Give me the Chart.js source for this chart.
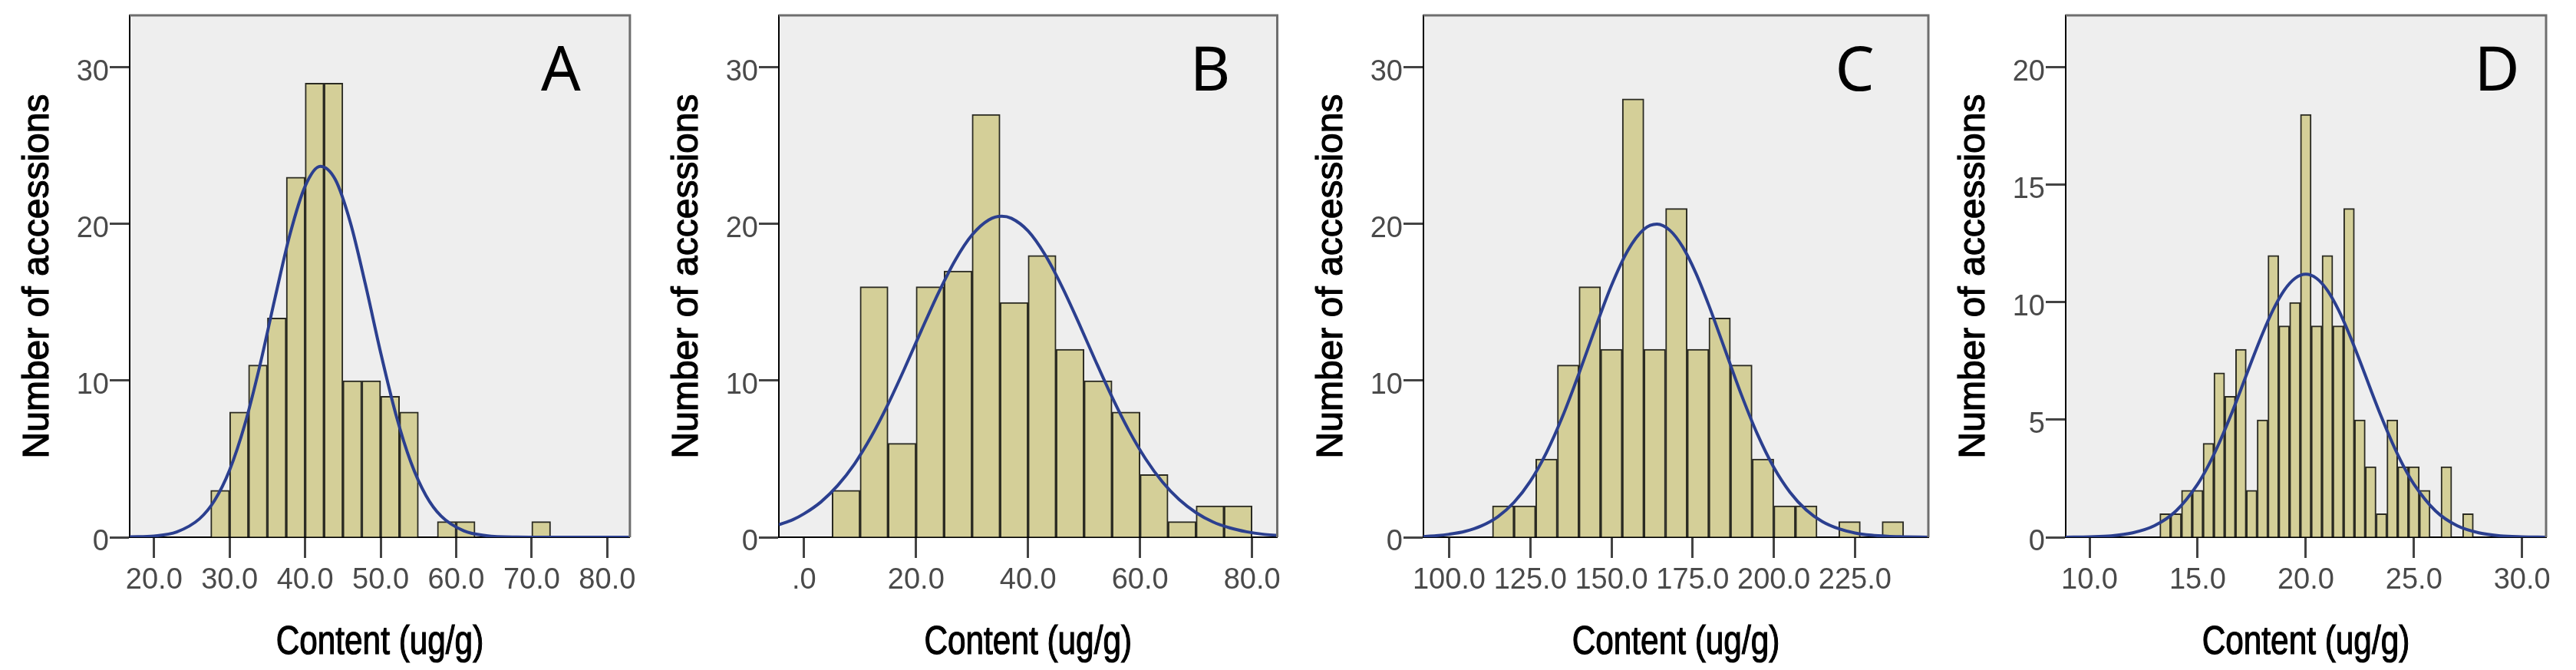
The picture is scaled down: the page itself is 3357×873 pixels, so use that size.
<!DOCTYPE html>
<html>
<head>
<meta charset="utf-8">
<script src="https://cdn.jsdelivr.net/npm/chart.js@4.4.1/dist/chart.umd.min.js"></script>
<style>
  html, body { margin: 0; padding: 0; background: #fff; }
  body { width: 3357px; height: 873px; position: relative; overflow: hidden; }
  canvas { position: absolute; top: 0; }
</style>
</head>
<body>
<canvas id="chartA" width="840" height="873" style="left:0px"></canvas>
<canvas id="chartB" width="834" height="873" style="left:846px"></canvas>
<canvas id="chartC" width="834" height="873" style="left:1686px"></canvas>
<canvas id="chartD" width="834" height="873" style="left:2523px"></canvas>
<script>
const yTitle = 'Number of accessions';
const xTitle = 'Content (ug/g)';

// A
const binsA = [28.75, 31.25, 33.75, 36.25, 38.75, 41.25, 43.75, 46.25, 48.75, 51.25, 53.75, 58.75, 61.25, 71.25];
const countsA = [3, 8, 11, 14, 23, 29, 29, 10, 10, 9, 8, 1, 1, 1];
const curveXA = [16.8, 20, 23, 26, 28, 30, 32, 34, 36, 38, 40, 42, 44, 46, 48, 50, 52, 54, 56, 58, 61, 64, 68, 72, 76, 80, 83];
const curveYA = [0.02, 0.08, 0.34, 1.17, 2.34, 4.29, 7.18, 10.95, 15.25, 19.36, 22.42, 23.69, 22.84, 20.08, 16.11, 11.79, 7.87, 4.79, 2.66, 1.35, 0.41, 0.10, 0.01, 0, 0, 0, 0];
const xTicksA = [20, 30, 40, 50, 60, 70, 80];
const xLabelsA = ['20.0', '30.0', '40.0', '50.0', '60.0', '70.0', '80.0'];
const yTicksA = [0, 10, 20, 30];

// B
const binsB = [7.5, 12.5, 17.5, 22.5, 27.5, 32.5, 37.5, 42.5, 47.5, 52.5, 57.5, 62.5, 67.5, 72.5, 77.5];
const countsB = [3, 16, 6, 16, 17, 27, 15, 18, 12, 10, 8, 4, 1, 2, 2];
const curveXB = [-4.5, -2, 0, 3, 6, 9, 12, 15, 18, 21, 24, 27, 30, 33, 35.3, 37, 40, 43, 46, 49, 52, 55, 58, 61, 64, 67, 70, 73, 76, 79, 82, 84.5];
const curveYB = [0.80, 1.12, 1.50, 2.25, 3.30, 4.68, 6.43, 8.50, 10.82, 13.25, 15.61, 17.70, 19.31, 20.27, 20.5, 20.37, 19.56, 18.06, 16.05, 13.73, 11.30, 8.95, 6.82, 5.00, 3.53, 2.40, 1.57, 0.98, 0.60, 0.35, 0.19, 0.12];
const xTicksB = [0, 20, 40, 60, 80];
const xLabelsB = ['.0', '20.0', '40.0', '60.0', '80.0'];
const yTicksB = [0, 10, 20, 30];

// C
const binsC = [116.67, 123.33, 130, 136.67, 143.33, 150, 156.67, 163.33, 170, 176.67, 183.33, 190, 196.67, 203.33, 210, 223.33, 236.67];
const countsC = [2, 2, 5, 11, 16, 12, 28, 12, 21, 12, 14, 11, 5, 2, 2, 1, 1];
const curveXC = [92, 96, 100, 105, 110, 115, 120, 125, 130, 135, 140, 145, 150, 155, 160, 164, 168, 172, 176, 180, 185, 190, 195, 200, 205, 210, 215, 220, 225, 230, 235, 240, 247.6];
const curveYC = [0.05, 0.10, 0.19, 0.38, 0.73, 1.31, 2.23, 3.57, 5.41, 7.74, 10.46, 13.34, 16.08, 18.30, 19.67, 20.0, 19.60, 18.52, 16.87, 14.81, 11.96, 9.11, 6.56, 4.46, 2.87, 1.74, 0.99, 0.54, 0.27, 0.13, 0.06, 0.03, 0];
const xTicksC = [100, 125, 150, 175, 200, 225];
const xLabelsC = ['100.0', '125.0', '150.0', '175.0', '200.0', '225.0'];
const yTicksC = [0, 10, 20, 30];

// D
const binsD = [13.5, 14, 14.5, 15, 15.5, 16, 16.5, 17, 17.5, 18, 18.5, 19, 19.5, 20, 20.5, 21, 21.5, 22, 22.5, 23, 23.5, 24, 24.5, 25, 25.5, 26.5, 27.5];
const countsD = [1, 1, 2, 2, 4, 7, 6, 8, 2, 5, 12, 9, 10, 18, 9, 12, 9, 14, 5, 3, 1, 5, 3, 3, 2, 3, 1];
const curveXD = [8.9, 10, 11, 12, 13, 14, 15, 15.5, 16, 16.5, 17, 17.5, 18, 18.5, 19, 19.5, 20, 20.5, 21, 21.5, 22, 22.5, 23, 23.5, 24, 24.5, 25, 26, 27, 28, 29, 30, 31.1];
const curveYD = [0.004, 0.02, 0.06, 0.19, 0.49, 1.12, 2.26, 3.06, 4.02, 5.11, 6.29, 7.51, 8.67, 9.70, 10.51, 11.02, 11.2, 11.02, 10.51, 9.70, 8.67, 7.51, 6.29, 5.11, 4.02, 3.06, 2.26, 1.12, 0.49, 0.19, 0.06, 0.02, 0.004];
const xTicksD = [10, 15, 20, 25, 30];
const xLabelsD = ['10.0', '15.0', '20.0', '25.0', '30.0'];
const yTicksD = [0, 5, 10, 15, 20];

const axisFont = 'Liberation Sans';
const tickColor = '#4a4a4a';

// plot background, grey top/right frame, axis titles and the panel letter
const framePlugin = {
    id: 'framePlugin',
    beforeDraw(chart) {
        const {ctx, chartArea: a} = chart;
        ctx.save();
        ctx.fillStyle = '#eeeeee';
        ctx.fillRect(a.left, a.top, a.right - a.left, a.bottom - a.top);
        ctx.restore();
    },
    afterDatasetsDraw(chart) {
        const {ctx, chartArea: a} = chart;
        ctx.save();
        ctx.strokeStyle = '#6e6e6e';
        ctx.lineWidth = 3;
        ctx.beginPath();
        ctx.moveTo(a.left, a.top);
        ctx.lineTo(a.right, a.top);
        ctx.lineTo(a.right, a.bottom);
        ctx.stroke();
        ctx.restore();
    },
    afterDraw(chart, args, opts) {
        const {ctx, chartArea: a} = chart;
        ctx.save();
        ctx.fillStyle = '#000';
        ctx.font = '81px "Noto Sans"';
        ctx.textAlign = 'center';
        ctx.textBaseline = 'alphabetic';
        ctx.fillText(opts.letter, 731, 118);
        ctx.restore();

        // axis titles: a slight stroke gives the heavier look of the original
        ctx.save();
        ctx.fillStyle = '#000';
        ctx.strokeStyle = '#000';
        ctx.lineWidth = 1.2;
        ctx.textAlign = 'center';
        ctx.textBaseline = 'alphabetic';

        // x title, squeezed like Arial Narrow
        ctx.save();
        ctx.translate((a.left + a.right) / 2, 852);
        ctx.scale(0.83, 1);
        ctx.font = '51px "Liberation Sans"';
        ctx.fillText(xTitle, 0, 0);
        ctx.strokeText(xTitle, 0, 0);
        ctx.restore();

        // y title, rotated
        ctx.save();
        ctx.translate(63, (a.top + a.bottom) / 2);
        ctx.rotate(-Math.PI / 2);
        ctx.font = '48px "Liberation Sans"';
        ctx.fillText(yTitle, 0, 0);
        ctx.strokeText(yTitle, 0, 0);
        ctx.restore();

        ctx.restore();
    }
};

function makeHistogram(id, p) {
    const ctx = document.getElementById(id).getContext('2d');
    return new Chart(ctx, {
        data: {
            datasets: [
                {
                    type: 'line',
                    data: p.curveX.map((x, i) => ({x: x, y: p.curveY[i]})),
                    borderColor: '#2b3f8f',
                    borderWidth: 4,
                    pointRadius: 0,
                    cubicInterpolationMode: 'monotone',
                    order: 0
                },
                {
                    type: 'bar',
                    data: p.bins.map((x, i) => ({x: x, y: p.counts[i]})),
                    backgroundColor: '#d4cf98',
                    borderColor: '#2a2a22',
                    borderWidth: 2,
                    borderSkipped: 'start',
                    barPercentage: 1,
                    categoryPercentage: 1,
                    order: 1
                }
            ]
        },
        options: {
            responsive: false,
            animation: false,
            devicePixelRatio: 1,
            layout: { padding: { top: 13, right: p.padRight, left: 0, bottom: 0 } },
            plugins: {
                legend: { display: false },
                tooltip: { enabled: false },
                framePlugin: { letter: p.letter }
            },
            scales: {
                x: {
                    type: 'linear',
                    offset: false,
                    min: p.xMin,
                    max: p.xMax,
                    afterBuildTicks: s => { s.ticks = p.xTicks.map(v => ({value: v})); },
                    afterFit: s => { s.height = 173; },
                    ticks: {
                        callback: (v, i) => p.xLabels[i],
                        autoSkip: false,
                        maxRotation: 0,
                        padding: 11,
                        color: tickColor,
                        font: { family: axisFont, size: 38, lineHeight: 1 }
                    },
                    grid: { offset: false, drawOnChartArea: false, drawTicks: true, tickLength: 27, tickColor: '#444', tickWidth: 3 },
                    border: { display: true, color: '#000', width: 2 },
                    title: { display: false }
                },
                y: {
                    min: 0,
                    max: p.yMax,
                    afterBuildTicks: s => { s.ticks = p.yTicks.map(v => ({value: v})); },
                    afterFit: s => { s.width = 169; },
                    ticks: {
                        padding: 1,
                        labelOffset: 7,
                        color: tickColor,
                        font: { family: axisFont, size: 38, lineHeight: 1 }
                    },
                    grid: { drawOnChartArea: false, drawTicks: true, tickLength: 26, tickColor: '#444', tickWidth: 3 },
                    border: { display: true, color: '#000', width: 2 },
                    title: { display: false }
                }
            }
        },
        plugins: [framePlugin]
    });
}

makeHistogram('chartA', { letter: 'A', bins: binsA, counts: countsA, curveX: curveXA, curveY: curveYA,
    xTicks: xTicksA, xLabels: xLabelsA, yTicks: yTicksA, xMin: 16.77, xMax: 83.0, yMax: 33.33, padRight: 15 });
makeHistogram('chartB', { letter: 'B', bins: binsB, counts: countsB, curveX: curveXB, curveY: curveYB,
    xTicks: xTicksB, xLabels: xLabelsB, yTicks: yTicksB, xMin: -4.5, xMax: 84.5, yMax: 33.33, padRight: 7 });
makeHistogram('chartC', { letter: 'C', bins: binsC, counts: countsC, curveX: curveXC, curveY: curveYC,
    xTicks: xTicksC, xLabels: xLabelsC, yTicks: yTicksC, xMin: 92.1, xMax: 247.6, yMax: 33.33, padRight: 7 });
makeHistogram('chartD', { letter: 'D', bins: binsD, counts: countsD, curveX: curveXD, curveY: curveYD,
    xTicks: xTicksD, xLabels: xLabelsD, yTicks: yTicksD, xMin: 8.9, xMax: 31.11, yMax: 22.22, padRight: 39 });
</script>
</body>
</html>
